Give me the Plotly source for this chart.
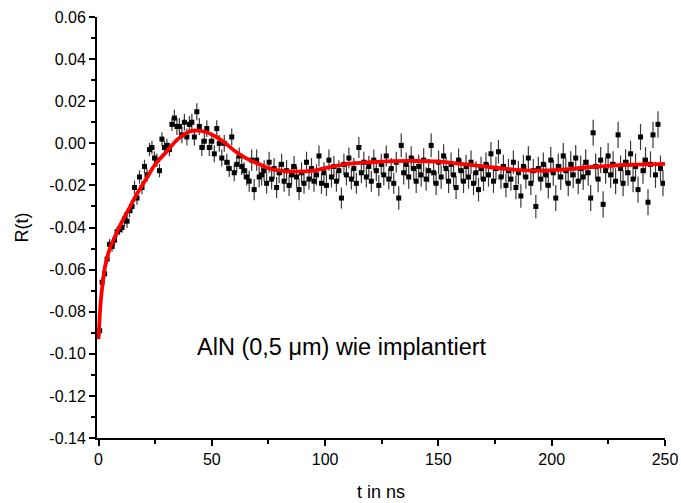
import plotly.graph_objects as go

# ---- data ----
t_start = 0.5
t_step = 1.1
R = [
    -0.089, -0.066, -0.062, -0.055, -0.048, -0.049, -0.046, -0.042, -0.041, -0.040,
    -0.036, -0.037, -0.032, -0.030, -0.021, -0.026, -0.016, -0.021, -0.011, -0.015,
    -0.003, -0.002, -0.007, -0.008, -0.013, 0.002, -0.002, -0.001, -0.003, 0.009,
    0.012, 0.008, 0.008, 0.004, 0.010, 0.003, 0.009, 0.010, 0.003, 0.015,
    0.008, -0.002, 0.001, 0.007, -0.002, 0.001, -0.005, 0.007, 0.000, -0.007,
    0.000, -0.009, -0.012, 0.003, -0.014, -0.010, -0.006, -0.011, -0.013, -0.016,
    -0.018, -0.008, -0.022, -0.008, -0.016, -0.015,
    -0.013, -0.019, -0.009, -0.017, -0.012, -0.021, -0.014, -0.010, -0.018, -0.013,
    -0.020, -0.015, -0.011, -0.016, -0.022, -0.014, -0.019, -0.009, -0.017, -0.012,
    -0.018, -0.015, -0.006, -0.019, -0.014, -0.020, -0.008, -0.016, -0.011, -0.018,
    -0.013, -0.026, -0.010, -0.015, -0.007, -0.017, -0.012, -0.019, -0.002, -0.014,
    -0.009, -0.016, -0.011, -0.018, -0.008, -0.013, -0.020, -0.010, -0.015, -0.006,
    -0.017, -0.012, -0.019, -0.009, -0.026, -0.001, -0.014, -0.010, -0.016, -0.007,
    -0.012, -0.018, -0.011, -0.015, -0.008, -0.017, -0.013, -0.001, -0.014, -0.019,
    -0.009, -0.016, -0.006, -0.012, -0.018, -0.010, -0.015, -0.021, -0.008, -0.013,
    -0.018, -0.011, -0.016, -0.009, -0.019, -0.014, -0.022, -0.012, -0.017, -0.010,
    -0.015, -0.005, -0.018, -0.012, -0.004, -0.016, -0.011, -0.020, -0.013, -0.017,
    -0.009, -0.021, -0.014, -0.025, -0.011, -0.016, -0.007, -0.019, -0.013, -0.030,
    -0.012, -0.017, -0.010, -0.015, -0.020, -0.008, -0.014, -0.026, -0.011, -0.016,
    -0.006, -0.013, -0.019, -0.010, -0.015, -0.007, -0.018, -0.012, -0.016, -0.009,
    -0.014, -0.026, 0.005, -0.011, -0.017, -0.008, -0.029, -0.013, -0.006, -0.015,
    -0.010, -0.018, 0.004, -0.012, -0.019, -0.009, -0.014, -0.005, -0.017, -0.011,
    -0.022, 0.003, -0.013, -0.008, -0.028, -0.010, 0.004, -0.015, 0.009, -0.012,
    -0.019,
]
R_err = [0.0025] * 10 + [0.0032] * 20 + [0.0040] * 30 + [0.0050] * 60 + [0.0056] * 60 + [0.0062] * 47

t = [round(t_start + t_step * i, 2) for i in range(len(R))]

fit_t = [0, 0.5, 1, 2, 3, 5, 7, 10, 13, 17, 21, 25, 30, 35, 40, 43, 47, 52, 56, 60, 65, 70,
         75, 80, 87, 95, 100, 110, 120, 130, 140, 150, 160, 170, 180, 193, 205, 215, 225, 235, 250]
fit_R = [-0.093, -0.083, -0.075, -0.065, -0.058, -0.050, -0.045, -0.038, -0.032, -0.024, -0.017,
         -0.010, -0.004, 0.002, 0.0055, 0.006, 0.0055, 0.003, 0.000, -0.0035, -0.007, -0.0095,
         -0.0118, -0.013, -0.0135, -0.013, -0.0118, -0.0098, -0.009, -0.0085, -0.0084, -0.0087,
         -0.0098, -0.011, -0.0122, -0.013, -0.0125, -0.0115, -0.0107, -0.0102, -0.0098]

y_ticks = [0.06, 0.04, 0.02, 0.00, -0.02, -0.04, -0.06, -0.08, -0.10, -0.12, -0.14]
y_labels = ["0.06", "0.04", "0.02", "0.00", "-0.02", "-0.04", "-0.06", "-0.08", "-0.10", "-0.12", "-0.14"]
x_ticks = [0, 50, 100, 150, 200, 250]

fig = go.Figure()
fig.add_trace(go.Scatter(
    x=t, y=R, mode="markers",
    marker=dict(symbol="square", size=5, color="black"),
    error_y=dict(type="data", array=R_err, visible=True, color="#3a3a3a", thickness=1.2, width=0),
    showlegend=False,
))
fig.add_trace(go.Scatter(
    x=fit_t, y=fit_R, mode="lines",
    line=dict(color="#ff0000", width=3.8, shape="spline", smoothing=0.8),
    showlegend=False,
))

fig.add_annotation(x=107.5, y=-0.097, xref="x", yref="y", text="AlN (0,5 μm) wie implantiert",
                   showarrow=False, font=dict(family="Liberation Sans, Arial", size=23.5, color="black"))

fig.update_layout(
    width=681, height=503,
    margin=dict(l=97, r=16, t=17, b=65),
    paper_bgcolor="white", plot_bgcolor="white",
    font=dict(family="Liberation Sans, Arial", color="black"),
)
fig.update_xaxes(
    range=[-0.66, 250], showgrid=False, zeroline=False, automargin=False,
    showline=True, linecolor="black", linewidth=2,
    ticks="outside", ticklen=6, tickwidth=2, tickcolor="black",
    tickvals=x_ticks, tickfont=dict(size=16),
    minor=dict(dtick=25, tick0=0, ticks="outside", ticklen=4, tickwidth=2, tickcolor="black"),
    title=dict(text="t in ns", font=dict(size=18), standoff=18),
)
fig.update_yaxes(
    range=[-0.14, 0.06], showgrid=False, zeroline=False, automargin=False,
    showline=True, linecolor="black", linewidth=2,
    ticks="outside", ticklen=6, tickwidth=2, tickcolor="black",
    tickvals=y_ticks, ticktext=y_labels, tickfont=dict(size=16),
    minor=dict(dtick=0.01, tick0=0, ticks="outside", ticklen=4, tickwidth=2, tickcolor="black"),
    title=dict(text="R(t)", font=dict(size=18), standoff=16),
)

fig.write_html("out.html")
